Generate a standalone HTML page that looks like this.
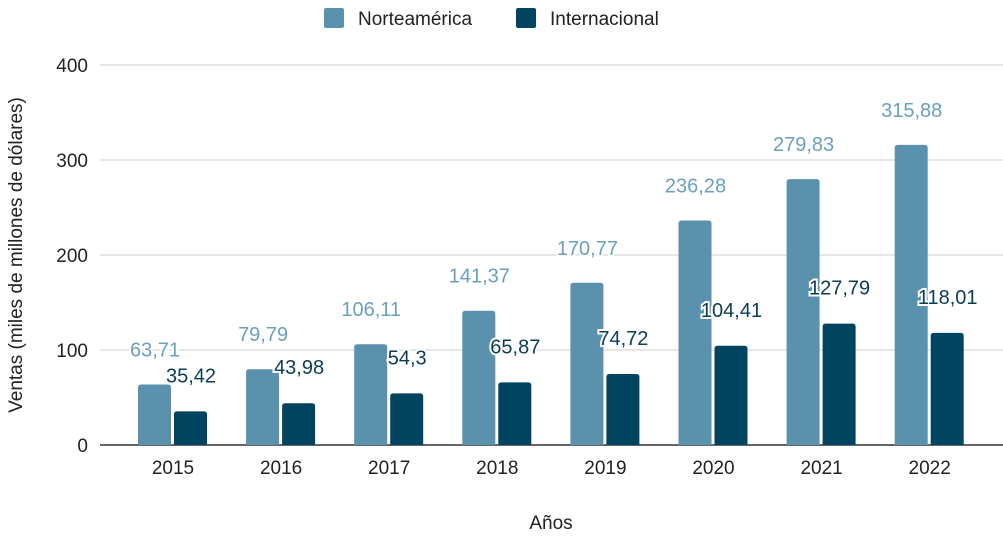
<!DOCTYPE html>
<html><head><meta charset="utf-8"><style>
body{margin:0;background:#fff;width:1003px;height:532px;overflow:hidden}
svg{font-family:"Liberation Sans",sans-serif}
</style></head><body>
<svg id="c" width="1003" height="532">
<g>
<rect x="324" y="8" width="20" height="20" rx="2" fill="#5a91ad"/>
<text x="358" y="25" font-size="19" fill="#222">Norteamérica</text>
<rect x="516" y="8" width="20" height="20" rx="2" fill="#00445f"/>
<text x="550" y="25" font-size="19" fill="#222">Internacional</text>
</g>
<text transform="translate(22,255) rotate(-90)" text-anchor="middle" font-size="19" fill="#222">Ventas (miles de millones de dólares)</text>
<text x="551" y="529" text-anchor="middle" font-size="19" fill="#222">Años</text>
<g id="grid"></g><g id="bars"></g><g id="labels"></g>
</svg>
<script>
const categories=["2015","2016","2017","2018","2019","2020","2021","2022"];
const norte=[63.71,79.79,106.11,141.37,170.77,236.28,279.83,315.88];
const intl=[35.42,43.98,54.3,65.87,74.72,104.41,127.79,118.01];
const yTicks=[0,100,200,300,400];
const NS="http://www.w3.org/2000/svg";
const y=v=>445-v*0.95;
const cx=i=>173+i*108.1;
function mk(t,a,p){const e=document.createElementNS(NS,t);for(const k in a)e.setAttribute(k,a[k]);p.appendChild(e);return e;}
const grid=document.getElementById('grid'),bars=document.getElementById('bars'),labels=document.getElementById('labels');
yTicks.forEach(t=>{
 const l=mk('line',{x1:100,x2:1003,y1:y(t),y2:y(t),stroke:t===0?'#333':'#ccc','stroke-width':t===0?1.5:1},grid);
 
 
 const tx=mk('text',{x:88,y:y(t)+7,'text-anchor':'end','font-size':19,fill:'#222'},grid);tx.textContent=t;
 
 
});
function bar(x,v,w,c){const h=445-y(v);return `M${x},445V${y(v)+3}Q${x},${y(v)} ${x+3},${y(v)}H${x+w-3}Q${x+w},${y(v)} ${x+w},${y(v)+3}V445Z`;}
const fmt=v=>String(v).replace('.',',');
categories.forEach((c,i)=>{
 const b1=mk('path',{d:bar(cx(i)-35,norte[i],33),fill:'#5a91ad'},bars);
 
 
 const b2=mk('path',{d:bar(cx(i)+1,intl[i],33),fill:'#00445f'},bars);
 
 
 const t1=mk('text',{x:cx(i)-18,y:y(norte[i])-28,'text-anchor':'middle','font-size':20,fill:'#6a9fc0',stroke:'#fff','stroke-width':4,'paint-order':'stroke'},labels);t1.textContent=fmt(norte[i]);
 
 
 const t2=mk('text',{x:cx(i)+18,y:y(intl[i])-29,'text-anchor':'middle','font-size':20,fill:'#0b3d55',stroke:'#fff','stroke-width':4,'paint-order':'stroke'},labels);t2.textContent=fmt(intl[i]);
 
 
 const xl=mk('text',{x:cx(i),y:474,'text-anchor':'middle','font-size':19,fill:'#222'},labels);xl.textContent=c;
 
 
});
</script>
</body></html>
